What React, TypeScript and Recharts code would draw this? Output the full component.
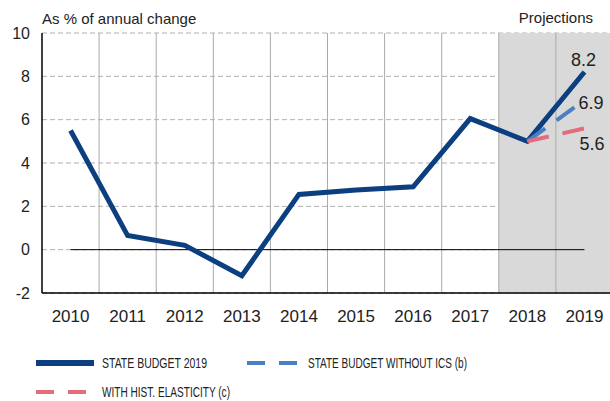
import React from 'react'
import {
  ComposedChart,
  Line,
  XAxis,
  YAxis,
  CartesianGrid,
  ReferenceArea,
  ReferenceLine,
  LabelList,
} from 'recharts'

const years = ['2010', '2011', '2012', '2013', '2014', '2015', '2016', '2017', '2018', '2019']
const stateBudget = [5.5, 0.65, 0.2, -1.2, 2.55, 2.75, 2.9, 6.05, 5.0, 8.2]
const withoutIcs = [null, null, null, null, null, null, null, null, 5.0, 6.9]
const histElasticity = [null, null, null, null, null, null, null, null, 5.0, 5.6]
const yTicks = [-2, 0, 2, 4, 6, 8, 10]

const NAVY = '#0b3f80'
const BLUE = '#4d7fc0'
const PINK = '#e06c7e'
const FONT = '"Liberation Sans", Arial, sans-serif'

// x is the year's index, so band edges sit at half steps
const data = years.map((year, i) => ({
  x: i,
  year,
  budget: stateBudget[i],
  noIcs: withoutIcs[i],
  hist: histElasticity[i],
}))
const xTicks = years.map((_, i) => i)
const bandEdges = years.slice(1).map((_, i) => i + 0.5)

const lastLabel = (dx: number, dy: number, anchor: 'start' | 'middle') => (props: any) => {
  const { x, y, index, value } = props
  if (index !== years.length - 1) return null
  return (
    <text x={x + dx} y={y + dy} textAnchor={anchor} fontSize={18} fill="#222" fontFamily={FONT}>
      {Number(value).toFixed(1)}
    </text>
  )
}

function Legend() {
  const txt = { fontSize: 15, fontFamily: FONT, fill: '#222', lengthAdjust: 'spacingAndGlyphs' as const }
  return (
    <svg width={610} height={401} style={{ position: 'absolute', left: 0, top: 0, pointerEvents: 'none' }}>
      <line x1={36} x2={94} y1={363} y2={363} stroke={NAVY} strokeWidth={6} />
      <text x={102} y={368} textLength={105} {...txt}>STATE BUDGET 2019</text>
      <line x1={247} x2={297} y1={363} y2={363} stroke={BLUE} strokeWidth={4} strokeDasharray="18 14" />
      <text x={308} y={368} textLength={159} {...txt}>STATE BUDGET WITHOUT ICS (b)</text>
      <line x1={36} x2={87} y1={392} y2={392} stroke={PINK} strokeWidth={4} strokeDasharray="18 14" />
      <text x={102} y={397} textLength={128} {...txt}>WITH HIST. ELASTICITY (c)</text>
    </svg>
  )
}

export default function App() {
  return (
    <div style={{ position: 'absolute', left: 0, top: 0, width: 610, height: 401, fontFamily: FONT }}>
      <ComposedChart width={610} height={401} data={data} margin={{ top: 33, right: -3, left: 0, bottom: 78 }}>
        <ReferenceArea
          x1={7.5}
          x2={9.5}
          fill="#d9d9d9"
          fillOpacity={1}
          stroke="none"
          label={{ value: 'Projections', position: 'top', offset: 10, fontSize: 15, fill: '#222' }}
        />
        <CartesianGrid vertical={false} stroke="#b0b0b0" strokeDasharray="5 3" />
        {bandEdges.map((e) => (
          <ReferenceLine key={e} x={e} stroke="#aaaaaa" strokeWidth={1} />
        ))}
        <ReferenceLine
          segment={[
            { x: 0, y: 0 },
            { x: 9, y: 0 },
          ]}
          stroke="#000"
          strokeWidth={1}
        />
        <XAxis
          dataKey="x"
          type="number"
          domain={[-0.5, 9.5]}
          ticks={xTicks}
          tickFormatter={(v) => years[v]}
          height={30}
          axisLine={{ stroke: '#000', strokeWidth: 1.5 }}
          tickLine={false}
          tickSize={0}
          tickMargin={17}
          tick={{ fontSize: 17, fill: '#222' }}
          interval={0}
        />
        <YAxis
          width={42}
          domain={[-2, 10]}
          ticks={yTicks}
          axisLine={{ stroke: '#000', strokeWidth: 1.5 }}
          tickLine={false}
          tickSize={0}
          tickMargin={12}
          tick={{ fontSize: 16, fill: '#222' }}
          label={{ value: 'As % of annual change', position: 'insideTopLeft', offset: 0, dx: 42, dy: -20, fontSize: 15, fill: '#222' }}
        />
        <Line
          type="linear"
          dataKey="budget"
          stroke={NAVY}
          strokeWidth={5}
          dot={false}
          strokeLinejoin="miter"
          isAnimationActive={false}
        >
          <LabelList dataKey="budget" content={lastLabel(-1, -6, 'middle')} />
        </Line>
        <Line
          type="linear"
          dataKey="noIcs"
          stroke={BLUE}
          strokeWidth={4}
          strokeDasharray="22 14"
          dot={false}
          isAnimationActive={false}
        >
          <LabelList dataKey="noIcs" content={lastLabel(-6, 9, 'start')} />
        </Line>
        <Line
          type="linear"
          dataKey="hist"
          stroke={PINK}
          strokeWidth={4}
          strokeDasharray="22 14"
          dot={false}
          isAnimationActive={false}
        >
          <LabelList dataKey="hist" content={lastLabel(-5, 22, 'start')} />
        </Line>
      </ComposedChart>
      <Legend />
    </div>
  )
}
